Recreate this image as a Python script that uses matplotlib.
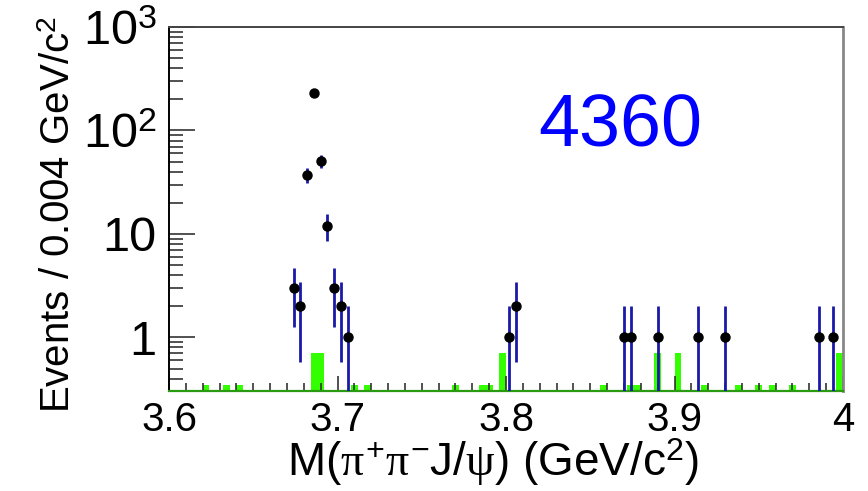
import numpy as np
import matplotlib
matplotlib.use('Agg')
import matplotlib.pyplot as plt
from matplotlib.ticker import MultipleLocator, FixedLocator, NullFormatter

plt.rcParams['font.family'] = ['Liberation Sans', 'DejaVu Sans']
plt.rcParams['mathtext.fontset'] = 'custom'
plt.rcParams['mathtext.rm'] = 'Liberation Sans'
plt.rcParams['mathtext.it'] = 'Liberation Serif'
plt.rcParams['mathtext.bf'] = 'Liberation Sans:bold'

#######################################
# data points (bin centres, 0.004 GeV bins) and counts
mass   = [3.674, 3.678, 3.682, 3.686, 3.690, 3.694, 3.698, 3.702, 3.706,
          3.802, 3.806, 3.870, 3.874, 3.890, 3.914, 3.930, 3.986, 3.994]
counts = [3, 2, 37, 232, 51, 12, 3, 2, 1,
          1, 2, 1, 1, 1, 1, 1, 1, 1]

# green sideband histogram (left bin edges and contents)
bkg_edge = [3.620, 3.632, 3.640, 3.684, 3.688, 3.708, 3.716, 3.768, 3.784, 3.788,
            3.796, 3.856, 3.872, 3.876, 3.888, 3.900, 3.916, 3.936, 3.948, 3.956,
            3.968, 3.996]
bkg_val  = [0.35, 0.35, 0.35, 0.7, 0.7, 0.35, 0.35, 0.35, 0.35, 0.35,
            0.7, 0.35, 0.35, 0.35, 0.7, 0.7, 0.35, 0.35, 0.35, 0.35,
            0.35, 0.7]
bin_w = 0.004

xticks  = [3.6, 3.7, 3.8, 3.9, 4.0]
xlabels = ['3.6', '3.7', '3.8', '3.9', '4']
yticks  = [1, 10, 100, 1000]
ylabels = ['1', '10', '$10^{2}$', '$10^{3}$']
#######################################

fig = plt.figure(figsize=(8.68, 4.91), dpi=100)
ax = fig.add_axes([0.1947, 0.2037, 0.9712 - 0.1947, 0.945 - 0.2037])

ax.bar(bkg_edge, bkg_val, width=bin_w, align='edge', bottom=1e-3,
       color='#33ff00', edgecolor='none', zorder=1)

counts = np.array(counts, dtype=float)
err = np.sqrt(counts)
lo = np.minimum(err, counts - 1e-4)
ax.errorbar(mass, counts, yerr=[lo, err], fmt='o', color='black',
            ecolor='#1a1aa8', elinewidth=2.0, capsize=0, markersize=6.5,
            zorder=3)

ax.set_yscale('log')
ax.set_xlim(3.6, 4.0)
ax.set_ylim(0.304, 1000)

ax.xaxis.set_major_locator(FixedLocator(xticks))
ax.set_xticklabels(xlabels)
ax.xaxis.set_minor_locator(MultipleLocator(0.01))
ax.yaxis.set_major_locator(FixedLocator(yticks))
ax.set_yticklabels(ylabels)
minors = [m * 10.0**d for d in range(-1, 3) for m in range(2, 10)]
ax.yaxis.set_minor_locator(FixedLocator(minors))
ax.yaxis.set_minor_formatter(NullFormatter())

ax.tick_params(axis='both', which='major', direction='in',
               width=1.2, color='#333333')
ax.tick_params(axis='x', which='major', length=11, pad=7, labelsize=29)
ax.tick_params(axis='x', which='minor', direction='in', length=6, width=1.2,
               color='#333333')
ax.tick_params(axis='y', which='major', length=19, pad=9, labelsize=35)
ax.tick_params(axis='y', which='minor', direction='in', length=10, width=1.2,
               color='#333333')

ax.spines['left'].set_color('black')
ax.spines['left'].set_linewidth(1.4)
ax.spines['bottom'].set_color('#2a9a10')
ax.spines['bottom'].set_linewidth(1.6)
ax.spines['top'].set_color('#444444')
ax.spines['top'].set_linewidth(1.4)
ax.spines['right'].set_color('#888888')
ax.spines['right'].set_linewidth(2.0)

ax.set_xlabel(r'M($\pi^{+}\pi^{-}$J/$\psi$) (GeV/c$^{2}$)', fontsize=33,
              labelpad=0)
ax.xaxis.set_label_coords(0.48, -0.125)
ax.set_ylabel('Events / 0.004 GeV/c$^{2}$', fontsize=29)
ax.yaxis.set_label_coords(-0.135, 0.485)

ax.text(3.868, 108, '4360', color='#0000ff', fontsize=53,
        ha='center', va='center')

fig.savefig('out.png', dpi=100)
